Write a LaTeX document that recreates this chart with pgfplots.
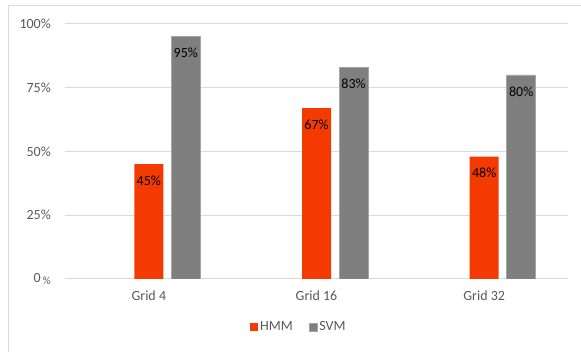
\documentclass[border=0pt]{standalone}
\usepackage{pgfplots}
\pgfplotsset{compat=1.18}
\usepackage{fontspec}
\setmainfont{Carlito}
\definecolor{hmm}{HTML}{F43A00}
\definecolor{svm}{HTML}{7F7F7F}
\definecolor{gridc}{HTML}{D9D9D9}
\definecolor{tickc}{HTML}{595959}
\begin{document}
\fontsize{14bp}{17bp}\selectfont
\begin{tikzpicture}
\useasboundingbox (0,0) rectangle (581bp,352bp);
\draw[color=gridc, line width=1bp] (8bp,0bp) -- (8bp,346bp) -- (581bp,346bp);
\begin{axis}[
  at={(65bp,73bp)}, anchor=south west,
  scale only axis, width=503bp, height=255bp,
  xmin=-0.5, xmax=2.5, ymin=0, ymax=100,
  axis line style={draw=none},
  major tick length=0pt,
  ymajorgrids, grid style={color=gridc, line width=1bp},
  xtick={0,1,2}, xticklabels={Grid 4, Grid 16, Grid 32},
  ytick={0,25,50,75,100},
  yticklabels={0\,{\raisebox{-1.5bp}{\fontsize{11bp}{12bp}\selectfont\%}}, 25\%, 50\%, 75\%, 100\%},
  yticklabel style={anchor=east, inner sep=0pt, xshift=-14bp, text=tickc},
  xticklabel style={anchor=north, inner sep=0pt, yshift=-12bp, text=tickc},
  /pgf/number format/assume math mode=true,
  nodes near coords={\pgfmathprintnumber{\pgfplotspointmeta}\%},
  every node near coord/.append style={anchor=center, yshift=-16.5bp, text=black, inner sep=0pt},
  legend style={at={(0.465,-0.188)}, anchor=center, draw=none, legend columns=2,
    /tikz/every even column/.append style={column sep=14bp}, text=tickc, inner sep=0pt},
  legend image code/.code={\fill[#1] (0bp,-4bp) rectangle (8bp,4bp);},
]
\addplot[ybar, bar width=29bp, bar shift=0bp, fill=hmm, draw=none] coordinates {(0,45) (1,67) (2,48)};
\addlegendentry{HMM}
\addplot[ybar, bar width=29bp, bar shift=37bp, fill=svm, draw=svm!70!white, line width=0.6bp,
  every node near coord/.append style={xshift=37bp}] coordinates {(0,95) (1,83) (2,80)};
\addlegendentry{SVM}
\end{axis}
\end{tikzpicture}
\end{document}
